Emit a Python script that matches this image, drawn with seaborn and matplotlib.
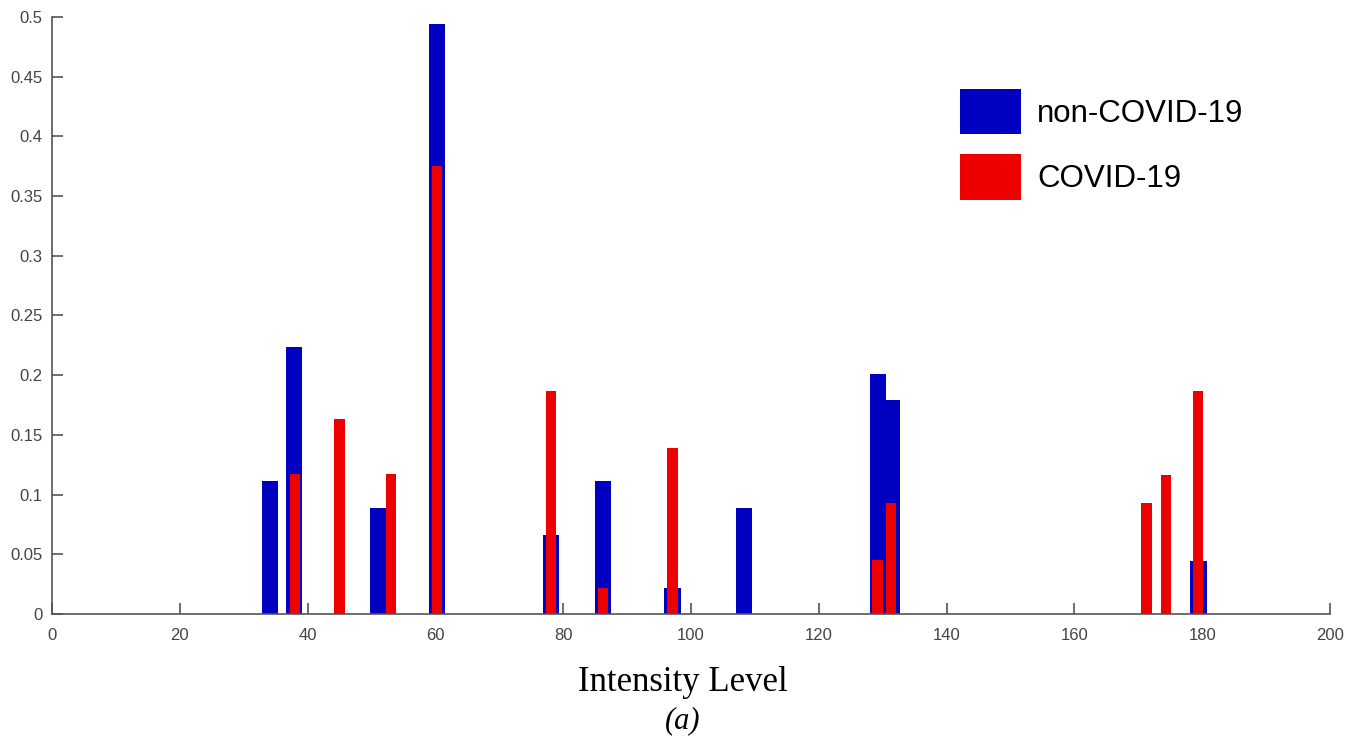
import numpy as np
import matplotlib
matplotlib.use("Agg")
import matplotlib.pyplot as plt
from matplotlib.patches import Patch
from matplotlib.ticker import FormatStrFormatter, MultipleLocator
import seaborn as sns

# intensity levels and normalised counts
non_covid_level = [34.1, 37.9, 51.0, 60.2, 78.1, 86.2, 97.1, 108.3, 129.3, 131.5, 179.4]
non_covid_value = [0.111, 0.224, 0.089, 0.494, 0.066, 0.111, 0.022, 0.089, 0.201, 0.179, 0.044]

covid_level = [38.0, 45.0, 53.0, 60.2, 78.1, 86.2, 97.1, 129.2, 131.3, 171.3, 174.3, 179.4]
covid_value = [0.117, 0.163, 0.117, 0.375, 0.187, 0.022, 0.139, 0.045, 0.093, 0.093, 0.116, 0.187]

series_names = ["non-COVID-19", "COVID-19"]
series_colors = ["#0000C0", "#EE0000"]

BLUE_W = 2.55
RED_W = 1.6


def native_width(levels, w):
    # seaborn scales bar width by the smallest gap between positions
    return w / np.diff(np.unique(levels)).min()


def main():
    sns.set_style("ticks", {"xtick.direction": "in", "ytick.direction": "in"})
    plt.rcParams["font.family"] = ["Liberation Sans", "DejaVu Sans"]

    fig = plt.figure(figsize=(13.59, 7.37), dpi=100)
    ax = fig.add_axes([52 / 1359, 123 / 737, (1330 - 52) / 1359, (614 - 17) / 737])

    sns.barplot(x=non_covid_level, y=non_covid_value, native_scale=True,
                width=native_width(non_covid_level, BLUE_W), color=series_colors[0],
                saturation=1, linewidth=0, errorbar=None, ax=ax)
    sns.barplot(x=covid_level, y=covid_value, native_scale=True,
                width=native_width(covid_level, RED_W), color=series_colors[1],
                saturation=1, linewidth=0, errorbar=None, ax=ax)

    ax.set_xlim(0, 200)
    ax.set_ylim(0, 0.5)
    ax.xaxis.set_major_locator(MultipleLocator(20))
    ax.yaxis.set_major_locator(MultipleLocator(0.05))
    ax.yaxis.set_major_formatter(FormatStrFormatter("%g"))
    ax.xaxis.set_major_formatter(FormatStrFormatter("%g"))
    sns.despine(ax=ax)
    for sp in ["left", "bottom"]:
        ax.spines[sp].set_color("#555555")
        ax.spines[sp].set_linewidth(1.2)
    ax.tick_params(axis="x", length=8, width=1.2, color="#555555",
                   labelsize=12, labelcolor="#444444", pad=10)
    ax.tick_params(axis="y", length=8, width=1.2, color="#555555",
                   labelsize=12, labelcolor="#444444", pad=7)

    ax.set_xlabel("Intensity Level", family=["Liberation Serif", "DejaVu Serif"],
                  fontsize=25, color="black")
    ax.xaxis.set_label_coords(683 / 1359, 1 - 691 / 737, transform=fig.transFigure)
    ax.xaxis.label.set_va("baseline")
    ax.set_ylabel("")
    fig.text(683 / 1359, 1 - 721 / 737, "(a)", family=["Liberation Serif", "DejaVu Serif"],
             style="italic", fontsize=22, color="black", ha="center", va="center")

    handles = [Patch(facecolor=c, edgecolor="none") for c in series_colors]
    ax.legend(handles, series_names, loc="upper left",
              bbox_to_anchor=(960 / 1359, 1 - 89 / 737), bbox_transform=fig.transFigure,
              frameon=False, fontsize=22.5, labelcolor="black",
              handlelength=1.95, handleheight=1.86,
              handletextpad=0.52, labelspacing=0.64, borderpad=0, borderaxespad=0)

    fig.savefig("out.png", dpi=100)


if __name__ == "__main__":
    main()
